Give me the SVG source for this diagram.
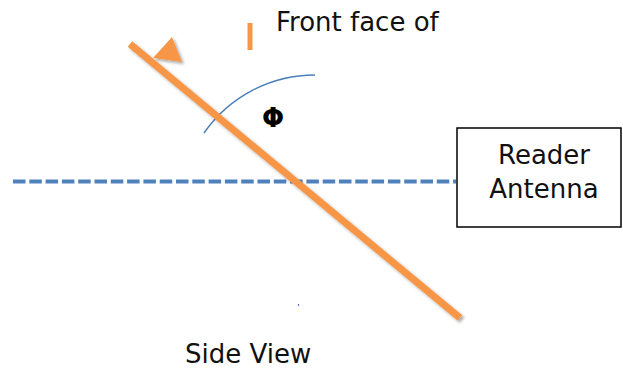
<svg xmlns="http://www.w3.org/2000/svg" width="623" height="371" viewBox="0 0 623 371">
<style>
.lbl{font-family:"DejaVu Sans","Liberation Sans",sans-serif;font-size:26px;fill:#111}
.orange{stroke:#F79646;fill:none}
</style>
<defs>
<filter id="sh" x="-10%" y="-10%" width="120%" height="120%">
<feDropShadow dx="2" dy="2" stdDeviation="1.5" flood-color="#000" flood-opacity="0.35"/>
</filter>
</defs>
<rect width="623" height="371" fill="#fff"/>
<g id="connectors">
<line x1="13" y1="181.5" x2="456" y2="181.5" stroke="#4F81BD" stroke-width="4" stroke-dasharray="12.5,3.8"/>
<path d="M204,133 A135,135 0 0 1 315,75" fill="none" stroke="#4A7EBB" stroke-width="1.5"/>
</g>
<g id="tag" filter="url(#sh)">
<line x1="130" y1="44" x2="460" y2="318" class="orange" stroke-width="7"/>
<polygon points="153,58 182,62 172,37" fill="#F79646"/>
</g>
<g id="marker-bar">
<line x1="250" y1="23" x2="250" y2="50" class="orange" stroke-width="5"/>
</g>
<g id="phi">
<text x="273" y="127" font-family="DejaVu Sans,Liberation Sans,sans-serif" font-size="26" font-weight="bold" text-anchor="middle" fill="#000">Φ</text>
</g>
<g id="front-label">
<text x="276" y="31" class="lbl">Front face of</text>
</g>
<g id="reader-antenna">
<rect x="457" y="128" width="164" height="99" fill="#fff" stroke="#000" stroke-width="1.5"/>
<text x="544" y="164" class="lbl" text-anchor="middle">Reader</text>
<text x="544" y="198" class="lbl" text-anchor="middle">Antenna</text>
</g>
<g id="side-view">
<text x="185" y="363" class="lbl">Side View</text>
</g>
<rect x="298" y="304" width="1" height="2" fill="#4472C4"/>
</svg>
